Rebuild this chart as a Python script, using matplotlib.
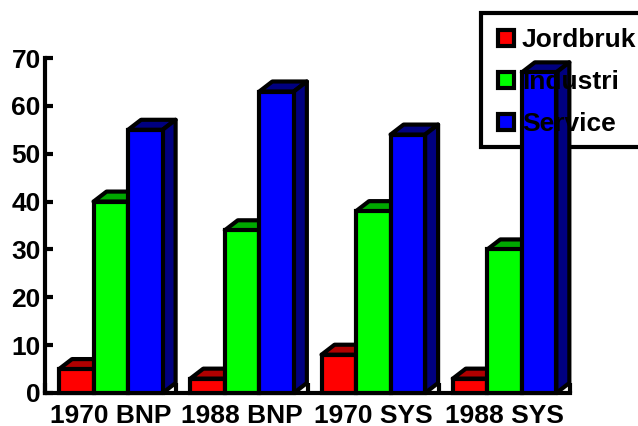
import matplotlib
matplotlib.use("Agg")
import matplotlib.pyplot as plt
from matplotlib.patches import Polygon, Rectangle
from matplotlib.lines import Line2D

categories = ["1970 BNP", "1988 BNP", "1970 SYS", "1988 SYS"]
jordbruk = [5, 3, 8, 3]
industri = [40, 34, 38, 30]
service = [55, 63, 54, 67]
y_ticks = [0, 10, 20, 30, 40, 50, 60, 70]

series = [
    ("Jordbruk", jordbruk, "#ff0000", "#b00000"),
    ("Industri", industri, "#00ff00", "#00a800"),
    ("Service", service, "#0000ff", "#000080"),
]

W, H = 638, 426
LEFT, RIGHT, TOP, BOTTOM = 45, 570, 58, 393
BAR_W = 0.263
PAD = 0.107
EDGE = 3.0
FONT = 19

plt.rcParams["font.family"] = ["Liberation Sans", "DejaVu Sans"]
plt.rcParams["font.weight"] = "bold"

fig = plt.figure(figsize=(W / 100, H / 100), dpi=100)
ax = fig.add_axes([LEFT / W, 1 - BOTTOM / H, (RIGHT - LEFT) / W, (BOTTOM - TOP) / H])
ax.set_xlim(0, len(categories))
ax.set_ylim(0, 70)

# depth of the fake 3d effect, in data units
dx = 13 / ((RIGHT - LEFT) / len(categories))
dy = 10 / ((BOTTOM - TOP) / 70)

for s, (name, values, color, dark) in enumerate(series):
    for i, v in enumerate(values):
        x0 = i + PAD + s * BAR_W
        x1 = x0 + BAR_W
        top = Polygon([(x0, v), (x0 + dx, v + dy), (x1 + dx, v + dy), (x1, v)],
                      closed=True, fc=dark, ec="black", lw=EDGE, zorder=3,
                      clip_on=False, joinstyle="round")
        side = Polygon([(x1, 0), (x1 + dx, dy), (x1 + dx, v + dy), (x1, v)],
                       closed=True, fc=dark, ec="black", lw=EDGE, zorder=3,
                       clip_on=False, joinstyle="round")
        ax.add_patch(top)
        ax.add_patch(side)
    ax.bar([i + PAD + s * BAR_W for i in range(len(values))], values, width=BAR_W,
           align="edge", color=color, edgecolor="black", linewidth=EDGE,
           zorder=4, clip_on=False)

for side_name in ["top", "right"]:
    ax.spines[side_name].set_visible(False)
for side_name in ["left", "bottom"]:
    ax.spines[side_name].set_linewidth(EDGE)

ax.set_yticks(y_ticks)
ax.set_xticks(range(len(categories) + 1))
ax.set_xticklabels([])
ax.set_xticks([i + 0.5 for i in range(len(categories))], minor=True)
ax.set_xticklabels(categories, minor=True)
ax.tick_params(axis="x", which="minor", length=0, labelsize=FONT, pad=8)
ax.tick_params(axis="x", which="major", direction="in", length=7, width=EDGE)
ax.tick_params(axis="y", direction="in", length=6, width=EDGE, labelsize=FONT, pad=3)

# legend box sits under the bars, its entries on top of them
box = Rectangle((481 / W, 1 - 147 / H), 170 / W, 134 / H, transform=fig.transFigure,
                fc="white", ec="black", lw=EDGE, zorder=1, clip_on=False)
ax.add_patch(box)
handles = [Line2D([], [], ls="none", marker="s", ms=12, mfc=c, mec="black", mew=EDGE)
           for _, _, c, _ in series]
legend = ax.legend(handles, [s[0] for s in series], frameon=False, fontsize=FONT,
                   loc="upper left", bbox_to_anchor=(489 / W, 1 - 28 / H),
                   bbox_transform=fig.transFigure, labelspacing=0.68,
                   handletextpad=-0.05, handlelength=1.3, borderpad=0, borderaxespad=0)
legend.set_zorder(10)

fig.savefig("out.png", dpi=100)
